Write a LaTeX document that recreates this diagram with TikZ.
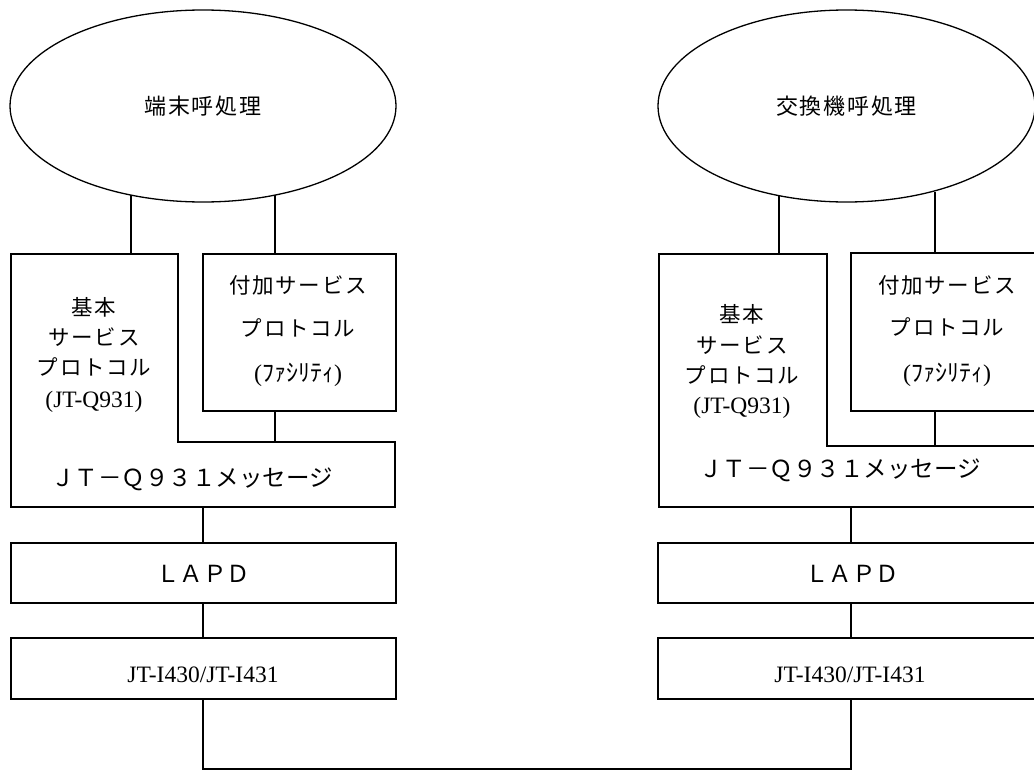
\documentclass[tikz,border=0pt]{standalone}
\usepackage{fontspec}
\setmainfont{Liberation Serif}
\newfontfamily\jp{Noto Sans CJK JP}
\newfontfamily\jpsp[LetterSpace=8]{Noto Sans CJK JP}
\usetikzlibrary{shapes.geometric}
\begin{document}
\begin{tikzpicture}[x=1pt,y=-1pt,line width=1.3pt,
  oval/.style={draw,ellipse,inner sep=0pt,font=\jpsp\fontsize{22}{26}\selectfont},
  box/.style={draw,rectangle,inner sep=0pt},
  jtxt/.style={inner sep=0pt,font=\jpsp\fontsize{21.5}{26}\selectfont},
  wtxt/.style={inner sep=0pt,font=\jp\fontsize{23.5}{28}\selectfont},
  etxt/.style={inner sep=0pt,font=\fontsize{23.5}{27}\selectfont},
  ktxt/.style={inner sep=0pt,font=\fontsize{24}{28}\selectfont}]
\useasboundingbox (0,0) rectangle (1034,771);
\clip (0,0) rectangle (1034,771);
% ---------- left stack ----------
\node[oval,minimum width=386pt,minimum height=192pt] (E1) at (203,106) {端末呼処理};
\draw (11,254) -- (178,254) -- (178,442) -- (395,442) -- (395,507) -- (11,507) -- cycle;
\coordinate (B1top) at (131,254);
\coordinate (B1step) at (275,442);
\coordinate (B1bot) at (203,507);
\coordinate (E1a) at (131,195);
\coordinate (E1b) at (275,195);
\node[box,minimum width=193pt,minimum height=157pt] (F1) at (299.5,332.5) {};
\node[jtxt] (b1t1) at (94,307) {基本};
\node[jtxt] (b1t2) at (94,337) {サービス};
\node[jtxt] (b1t3) at (94,367) {プロトコル};
\node[etxt] (b1t4) at (94,402) {(JT-Q931)};
\node[jtxt] (f1t1) at (298,285) {付加サービス};
\node[jtxt] (f1t2) at (298,328) {プロトコル};
\node[ktxt] (f1t3) at (298,375) {({\jp ﾌｧｼﾘﾃｨ})};
\node[wtxt] (m1) at (192,479) {ＪＴ－Ｑ９３１メッセージ};
\node[box,minimum width=385pt,minimum height=60pt] (L1) at (203.5,573) {};
\node[wtxt] (l1t) at (203,574) {ＬＡＰＤ};
\node[box,minimum width=385pt,minimum height=61pt] (J1) at (203.5,668.5) {};
\node[etxt] (j1t) at (203,675) {JT-I430/JT-I431};
\draw (E1a) -- (B1top);
\draw (E1b) -- (E1b |- F1.north);
\draw (B1step |- F1.south) -- (B1step);
\draw (B1bot) -- (B1bot |- L1.north);
\draw (B1bot |- L1.south) -- (B1bot |- J1.north);
% ---------- right stack ----------
\node[oval,minimum width=377pt,minimum height=192pt] (E2) at (846.5,106) {交換機呼処理};
\draw (659,254) -- (827,254) -- (827,446) -- (1043,446) -- (1043,507) -- (659,507) -- cycle;
\coordinate (B2top) at (779,254);
\coordinate (B2step) at (935,446);
\coordinate (B2bot) at (851,507);
\coordinate (E2a) at (779,196);
\coordinate (E2b) at (935,192);
\node[box,minimum width=193pt,minimum height=158pt] (F2) at (947.5,332) {};
\node[jtxt] (b2t1) at (742,314) {基本};
\node[jtxt] (b2t2) at (742,345) {サービス};
\node[jtxt] (b2t3) at (742,375) {プロトコル};
\node[etxt] (b2t4) at (742,408) {(JT-Q931)};
\node[jtxt] (f2t1) at (947,285) {付加サービス};
\node[jtxt] (f2t2) at (947,327) {プロトコル};
\node[ktxt] (f2t3) at (947,375) {({\jp ﾌｧｼﾘﾃｨ})};
\node[wtxt] (m2) at (840,470) {ＪＴ－Ｑ９３１メッセージ};
\node[box,minimum width=386pt,minimum height=60pt] (L2) at (851,573) {};
\node[wtxt] (l2t) at (852,574) {ＬＡＰＤ};
\node[box,minimum width=386pt,minimum height=61pt] (J2) at (851,668.5) {};
\node[etxt] (j2t) at (850,675) {JT-I430/JT-I431};
\draw (E2a) -- (B2top);
\draw (E2b) -- (E2b |- F2.north);
\draw (B2step |- F2.south) -- (B2step);
\draw (B2bot) -- (B2bot |- L2.north);
\draw (B2bot |- L2.south) -- (B2bot |- J2.north);
% ---------- link ----------
\coordinate (bot) at (0,769);
\draw (B1bot |- J1.south) -- (B1bot |- bot) -| (B2bot |- J2.south);
\end{tikzpicture}
\end{document}
